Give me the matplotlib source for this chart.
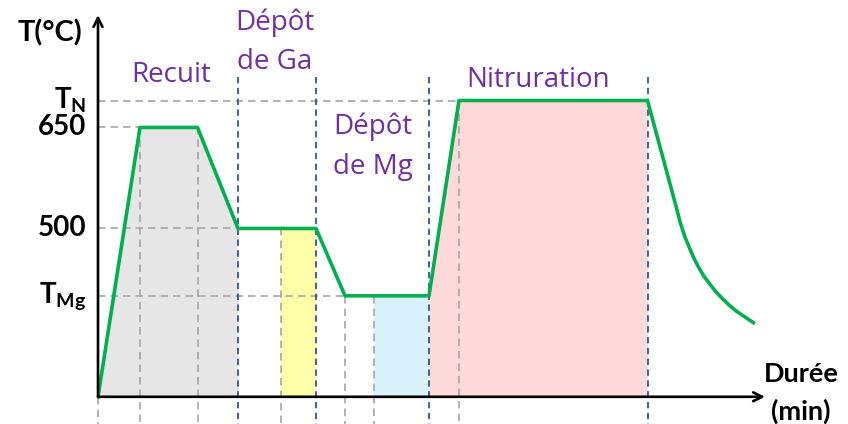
import matplotlib
matplotlib.use("Agg")
import matplotlib.pyplot as plt

plt.rcParams['font.family'] = ['Lato', 'DejaVu Sans']
plt.rcParams['mathtext.fontset'] = 'custom'
plt.rcParams['mathtext.rm'] = 'Lato'
plt.rcParams['mathtext.bf'] = 'Lato:bold'

# Thermal profile (time in min, temperature in °C)
profile_t = [0, 8.4, 19.9, 28, 43.6, 49.4, 66.2, 72.2, 109.9]
profile_T = [250, 650, 650, 500, 500, 400, 400, 690, 690]

# Free cooling after nitridation
cool_t = [109.9, 115.6, 116.4, 117.4, 119.1, 120.0, 121.1, 122.4,
          123.7, 125.0, 126.4, 127.7, 129.1, 131.1]
cool_T = [690, 533, 510, 487, 457, 444, 430, 417,
          405, 395, 385, 377, 370, 360]

T_base = 250
T_N = 690
T_mg = 400
ytick_vals = [T_N, 650, 500, T_mg]

# Phase boundaries
t_recuit_end = 28
t_ga = (36.6, 43.6)
t_mg = (55.2, 66.2)
t_nitr = (66.2, 109.9)
phase_bounds = [28, 43.6, 66.2, 109.9]

# Gray guide lines: (time, temperature where they start)
guide_v = [(0, 250), (8.4, 650), (19.9, 650), (36.6, 500), (49.4, 400),
           (55.2, 400), (72.2, 690)]
guide_h = [(690, 72.2), (650, 8.4), (500, 28), (400, 49.4)]

GREEN = '#00B050'
PURPLE = '#7030A0'
GRAY_DASH = '#A6A6A6'
BLUE_DASH = '#2F5597'

fig = plt.figure(figsize=(8.48, 4.24), dpi=100)
ax = fig.add_axes([98 / 848, 0, 667 / 848, 409 / 424])
ax.set_xlim(0, 133.4)
ax.set_ylim(209.6, 817)
ax.axis('off')

# Shaded phases
def seg(t0, t1):
    idx = [i for i, t in enumerate(profile_t) if t0 <= t <= t1]
    return [profile_t[i] for i in idx], [profile_T[i] for i in idx]

tx, ty = seg(0, t_recuit_end)
ax.fill_between(tx, ty, T_base, color='#E6E6E6', lw=0, zorder=1)
ax.fill_between(t_ga, [500, 500], T_base, color='#FFFFA8', lw=0, zorder=1)
ax.fill_between(t_mg, [T_mg, T_mg], T_base, color='#D9F2FC', lw=0, zorder=1)
tx, ty = seg(*t_nitr)
ax.fill_between(tx, ty, T_base, color='#FFDADA', lw=0, zorder=1)

# Guide lines
y_bottom = 209.6
for t, T in guide_v:
    ax.plot([t, t], [T, y_bottom], color=GRAY_DASH, lw=1.2,
            dashes=(4.5, 3), zorder=2, clip_on=False)
for T, t in guide_h:
    ax.plot([0, t], [T, T], color=GRAY_DASH, lw=1.2,
            dashes=(4.5, 3), zorder=2)
for t in phase_bounds:
    ax.plot([t, t], [725, y_bottom], color=BLUE_DASH, lw=1.3,
            dashes=(3.5, 2.5), zorder=3, clip_on=False)

# Temperature curve
ax.plot(profile_t + cool_t[1:], profile_T + cool_T[1:], color=GREEN,
        lw=2.6, solid_joinstyle='round', zorder=5)

# Axes with arrows
arrow = dict(arrowstyle='->', lw=1.9, color='black', mutation_scale=16,
             shrinkA=0, shrinkB=0)
ax.annotate('', xy=(0, 817), xytext=(0, T_base), arrowprops=arrow,
            annotation_clip=False, zorder=6)
ax.annotate('', xy=(133.4, T_base), xytext=(0, T_base), arrowprops=arrow,
            annotation_clip=False, zorder=6)

# Axis labels
bold = dict(fontsize=20, fontweight='bold', color='black')
ax.text(-3.2, 790, 'T(°C)', ha='right', va='center',
        **{**bold, 'fontsize': 21})
ytick_txt = [r'$\mathbf{T_N}$', '650', '500', r'$\mathbf{T_{Mg}}$']
for T, s in zip(ytick_vals, ytick_txt):
    ax.text(-2.4, T, s, ha='right', va='center', **bold)
dur = {**bold, 'fontsize': 19.5}
ax.text(140.6, 284, 'Durée', ha='center', va='center', **dur)
ax.text(140.6, 228, '(min)', ha='center', va='center', **dur)

# Phase names
reg = dict(fontsize=20, color=PURPLE, ha='center', va='center',
           family=['Open Sans', 'DejaVu Sans'])
ax.text(14.6, 728, 'Recuit', **reg)
ax.text(35.4, 806, 'Dépôt', **reg)
ax.text(35.4, 747, 'de Ga', **reg)
ax.text(54.9, 651, 'Dépôt', **reg)
ax.text(54.9, 592, 'de Mg', **reg)
ax.text(88.1, 721, 'Nitruration', **reg)

fig.savefig('out.png', dpi=100)
